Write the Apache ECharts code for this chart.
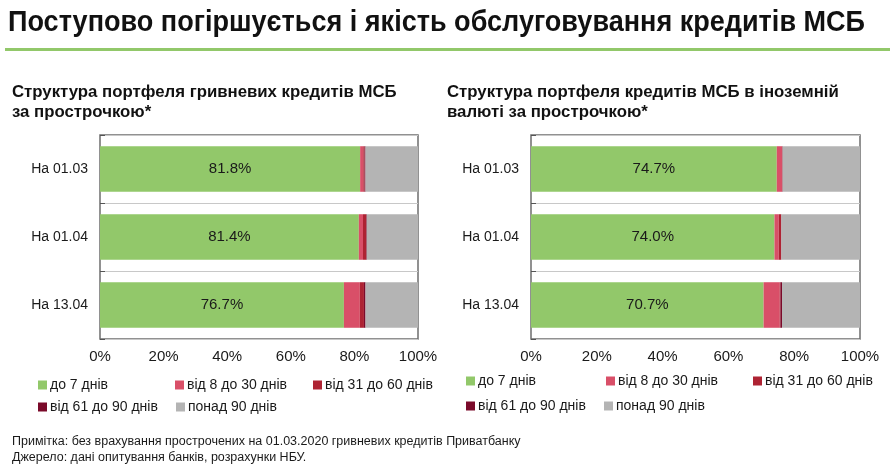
<!DOCTYPE html>
<html>
<head>
<meta charset="utf-8">
<script src="https://cdn.jsdelivr.net/npm/echarts@6/dist/echarts.min.js"></script>
<style>html,body{margin:0;padding:0;background:#fff}#c{width:895px;height:466px}</style>
</head>
<body>
<div id="c"></div>
<script>
// ---- data ----
const categories = ['На 01.03', 'На 01.04', 'На 13.04'];
const seriesNames = ['до 7 днів', 'від 8 до 30 днів', 'від 31 до 60 днів', 'від 61 до 90 днів', 'понад 90 днів'];
// UAH loans (left)
const uah_d7 = [81.8, 81.4, 76.7];
const uah_d8_30 = [1.0, 1.3, 5.0];
const uah_d31_60 = [0.4, 1.0, 1.3];
const uah_d61_90 = [0.3, 0.2, 0.5];
const uah_d90p = [16.5, 16.1, 16.5];
// FX loans (right)
const fx_d7 = [74.7, 74.0, 70.7];
const fx_d8_30 = [1.6, 1.3, 4.9];
const fx_d31_60 = [0.1, 0.7, 0.2];
const fx_d61_90 = [0.1, 0.1, 0.5];
const fx_d90p = [23.5, 23.9, 23.7];
const xTicks = [0, 20, 40, 60, 80, 100];

const colors = ['#92C86A', '#D94F68', '#AE2333', '#7A0A2A', '#B4B4B4'];
const uahData = [uah_d7, uah_d8_30, uah_d31_60, uah_d61_90, uah_d90p];
const fxData = [fx_d7, fx_d8_30, fx_d31_60, fx_d61_90, fx_d90p];

const chart = echarts.init(document.getElementById('c'), null, {renderer: 'canvas'});
const baseFont = 'Liberation Sans, Arial, sans-serif';

function makeSeries(dataArr, idx, stack) {
  return dataArr.map((d, i) => ({
    name: seriesNames[i],
    type: 'bar',
    stack: stack,
    xAxisIndex: idx,
    yAxisIndex: idx,
    barCategoryGap: '33%',
    itemStyle: {color: colors[i]},
    label: i === 0 ? {
      show: true, position: 'inside', fontSize: 15, color: '#1a1a1a', fontFamily: baseFont,
      formatter: p => p.value.toFixed(1) + '%'
    } : {show: false},
    emphasis: {disabled: true},
    data: d
  }));
}

function xAxis(gi) {
  return {
    type: 'value', gridIndex: gi, min: xTicks[0], max: xTicks[xTicks.length - 1], interval: 20,
    axisLine: {show: false}, axisTick: {show: false}, splitLine: {show: false},
    axisLabel: {formatter: v => xTicks.includes(v) ? v + '%' : '', fontSize: 15, color: '#1a1a1a', fontFamily: baseFont, margin: 10}
  };
}
function yAxis(gi) {
  return {
    type: 'category', gridIndex: gi, data: categories, inverse: true,
    axisLine: {show: false},
    axisTick: {show: true, inside: true, length: 5, lineStyle: {color: '#555'}},
    splitLine: {show: true, lineStyle: {color: '#c8c8c8', width: 1}},
    axisLabel: {fontSize: 14, color: '#1a1a1a', fontFamily: baseFont, margin: 12}
  };
}

const legendPos = [
  // left chart
  [38, 378, 0], [175, 378, 1], [313, 378, 2], [38, 400, 3], [176, 400, 4],
  // right chart
  [466, 374, 0], [606, 374, 1], [753, 374, 2], [466, 399, 3], [604, 399, 4]
];
const legends = legendPos.map(p => ({
  left: p[0], top: p[1], data: [seriesNames[p[2]]], icon: 'rect', itemWidth: 9, itemHeight: 9,
  padding: 0, selectedMode: false,
  textStyle: {fontSize: 14, color: '#1a1a1a', fontFamily: baseFont, padding: [0, 0, 0, -2]}
}));

const option = {
  animation: false,
  backgroundColor: '#fff',
  title: [
    {text: 'Структура портфеля гривневих кредитів МСБ\nза прострочкою*', left: 12, top: 82, padding: 0,
     textStyle: {fontSize: 16.8, fontWeight: 'bold', color: '#111', fontFamily: baseFont, lineHeight: 20}},
    {text: 'Структура портфеля кредитів МСБ в іноземній\nвалюті за прострочкою*', left: 447, top: 82, padding: 0,
     textStyle: {fontSize: 16.8, fontWeight: 'bold', color: '#111', fontFamily: baseFont, lineHeight: 20}},
    {text: 'Примітка: без врахування прострочених на 01.03.2020 гривневих кредитів Приватбанку\nДжерело: дані опитування банків, розрахунки НБУ.', left: 12, top: 434, padding: 0,
     textStyle: {fontSize: 12.5, fontWeight: 'normal', color: '#1a1a1a', fontFamily: baseFont, lineHeight: 16}}
  ],
  graphic: [
    {type: 'text', x: 8, y: 8, scaleX: 0.933, silent: true,
     style: {text: 'Поступово погіршується і якість обслуговування кредитів МСБ', fill: '#111',
             font: 'bold 29px Liberation Sans, Arial, sans-serif', textVerticalAlign: 'top'}},
    {type: 'rect', shape: {x: 5, y: 48, width: 885, height: 3}, style: {fill: '#92C86A'}, silent: true}
  ],
  legend: legends,
  grid: [
    {left: 100, top: 135, width: 318, height: 204, show: true, borderColor: '#6e6e6e', borderWidth: 1.5, backgroundColor: 'transparent'},
    {left: 531, top: 135, width: 329, height: 204, show: true, borderColor: '#6e6e6e', borderWidth: 1.5, backgroundColor: 'transparent'}
  ],
  xAxis: [xAxis(0), xAxis(1)],
  yAxis: [yAxis(0), yAxis(1)],
  series: makeSeries(uahData, 0, 'uah').concat(makeSeries(fxData, 1, 'fx'))
};
chart.setOption(option);
</script>
</body>
</html>
